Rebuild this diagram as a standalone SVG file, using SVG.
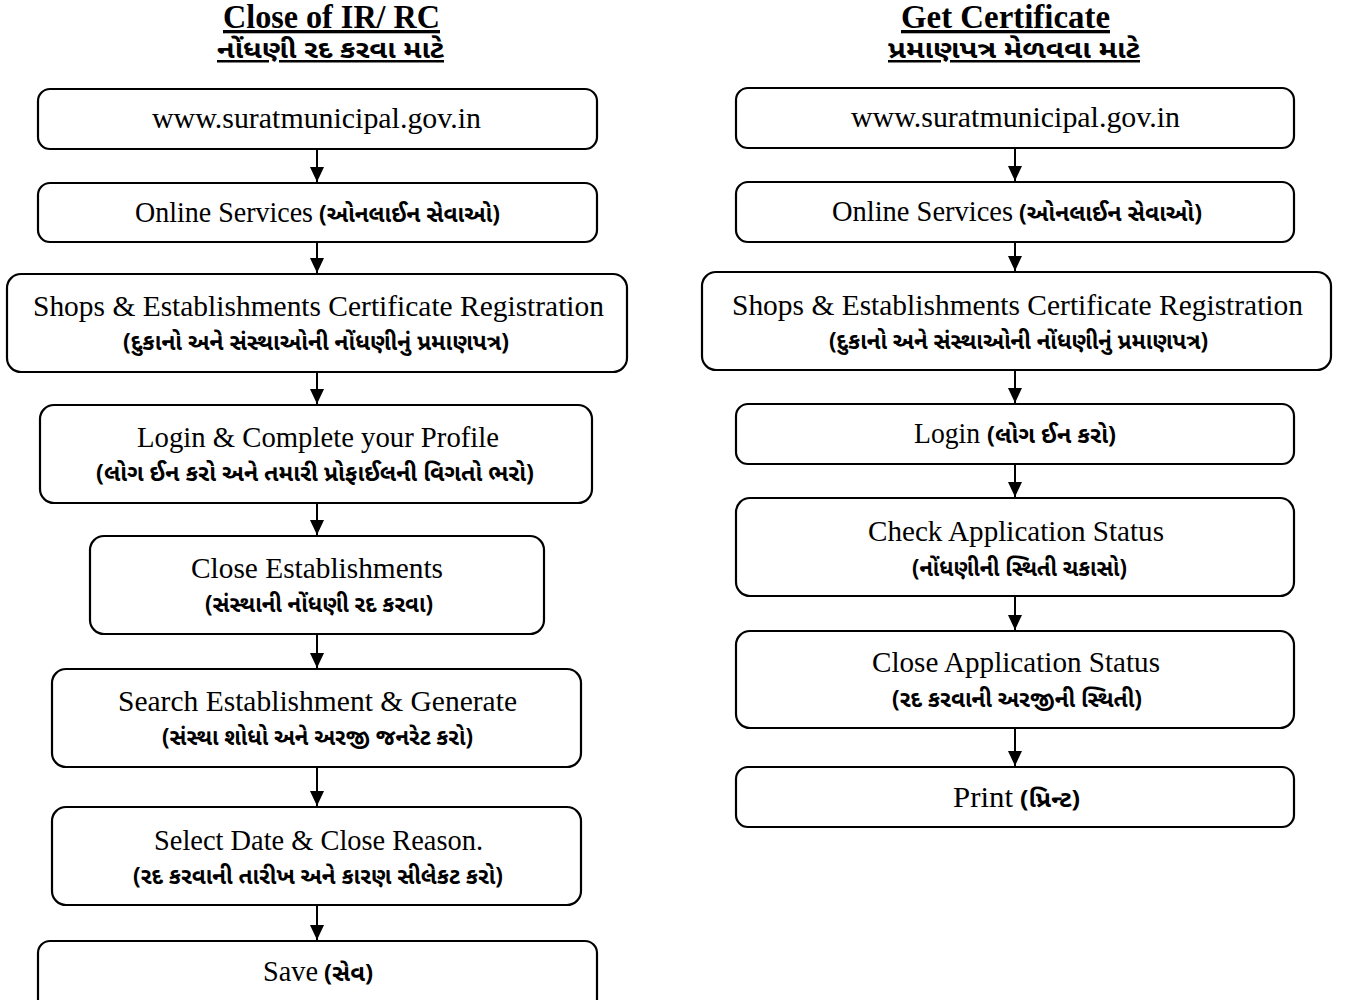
<svg xmlns="http://www.w3.org/2000/svg" width="1347" height="1000" viewBox="0 0 1347 1000">
<style>
.box{fill:#fff;stroke:#000;stroke-width:2.2}
.t{font-family:"Liberation Serif","DejaVu Serif",serif;font-size:29px;fill:#000}
.g{font-family:"Noto Sans Gujarati","Noto Sans","Liberation Serif",serif;font-size:23px;font-weight:bold;fill:#000}
.h{font-family:"Liberation Serif","DejaVu Serif",serif;font-size:33px;font-weight:bold;fill:#000;text-decoration:underline}
.hg{font-family:"Noto Sans Gujarati","Noto Sans","Liberation Serif",serif;font-size:25px;font-weight:bold;fill:#000;text-decoration:underline}
.c{stroke:#000;stroke-width:2;marker-end:url(#ah)}
</style>
<defs>
<marker id="ah" markerWidth="14" markerHeight="15" refX="7" refY="15" markerUnits="userSpaceOnUse" viewBox="0 0 14 15">
<path d="M0,0 L14,0 L7,15 Z" fill="#000"/>
</marker>
</defs>
<g id="title-left">
<text class="h" x="223" y="28" textLength="217" lengthAdjust="spacingAndGlyphs">Close of IR/ RC</text>
<text class="hg" x="217" y="58" textLength="227" lengthAdjust="spacingAndGlyphs">નોંધણી રદ કરવા માટે</text>
</g>
<g id="title-right">
<text class="h" x="901" y="28" textLength="209" lengthAdjust="spacingAndGlyphs">Get Certificate</text>
<text class="hg" x="888" y="58" textLength="252" lengthAdjust="spacingAndGlyphs">પ્રમાણપત્ર મેળવવા માટે</text>
</g>
<g id="connectors">
<line class="c" x1="317" y1="149" x2="317" y2="182"/>
<line class="c" x1="317" y1="242" x2="317" y2="273"/>
<line class="c" x1="317" y1="372" x2="317" y2="404"/>
<line class="c" x1="317" y1="503" x2="317" y2="535"/>
<line class="c" x1="317" y1="634" x2="317" y2="668"/>
<line class="c" x1="317" y1="767" x2="317" y2="806"/>
<line class="c" x1="317" y1="905" x2="317" y2="940"/>
<line class="c" x1="1015" y1="148" x2="1015" y2="181"/>
<line class="c" x1="1015" y1="242" x2="1015" y2="271"/>
<line class="c" x1="1015" y1="370" x2="1015" y2="403"/>
<line class="c" x1="1015" y1="464" x2="1015" y2="497"/>
<line class="c" x1="1015" y1="596" x2="1015" y2="630"/>
<line class="c" x1="1015" y1="728" x2="1015" y2="766"/>
</g>
<g id="l1"><rect class="box" x="38" y="89" width="559" height="60" rx="12"/>
<text class="t" x="152" y="128" textLength="329" lengthAdjust="spacingAndGlyphs">www.suratmunicipal.gov.in</text></g>
<g id="l2"><rect class="box" x="38" y="183" width="559" height="59" rx="12"/>
<text class="t" x="135" y="222" textLength="178" lengthAdjust="spacingAndGlyphs">Online Services</text>
<text class="g" x="319" y="222" textLength="181" lengthAdjust="spacingAndGlyphs">(ઓનલાઈન સેવાઓ)</text></g>
<g id="l3"><rect class="box" x="7" y="274" width="620" height="98" rx="14"/>
<text class="t" x="33" y="316" textLength="571" lengthAdjust="spacingAndGlyphs">Shops &amp; Establishments Certificate Registration</text>
<text class="g" x="123" y="350" textLength="386" lengthAdjust="spacingAndGlyphs">(દુકાનો અને સંસ્થાઓની નોંધણીનું પ્રમાણપત્ર)</text></g>
<g id="l4"><rect class="box" x="40" y="405" width="552" height="98" rx="14"/>
<text class="t" x="137" y="447" textLength="362" lengthAdjust="spacingAndGlyphs">Login &amp; Complete your Profile</text>
<text class="g" x="96" y="481" textLength="438" lengthAdjust="spacingAndGlyphs">(લોગ ઈન કરો અને તમારી પ્રોફાઈલની વિગતો ભરો)</text></g>
<g id="l5"><rect class="box" x="90" y="536" width="454" height="98" rx="14"/>
<text class="t" x="191" y="578" textLength="252" lengthAdjust="spacingAndGlyphs">Close Establishments</text>
<text class="g" x="205" y="612" textLength="228" lengthAdjust="spacingAndGlyphs">(સંસ્થાની નોંધણી રદ કરવા)</text></g>
<g id="l6"><rect class="box" x="52" y="669" width="529" height="98" rx="14"/>
<text class="t" x="118" y="711" textLength="399" lengthAdjust="spacingAndGlyphs">Search Establishment &amp; Generate</text>
<text class="g" x="162" y="745" textLength="311" lengthAdjust="spacingAndGlyphs">(સંસ્થા શોધો અને અરજી જનરેટ કરો)</text></g>
<g id="l7"><rect class="box" x="52" y="807" width="529" height="98" rx="14"/>
<text class="t" x="154" y="850" textLength="329" lengthAdjust="spacingAndGlyphs">Select Date &amp; Close Reason.</text>
<text class="g" x="133" y="884" textLength="370" lengthAdjust="spacingAndGlyphs">(રદ કરવાની તારીખ અને કારણ સીલેકટ કરો)</text></g>
<g id="l8"><rect class="box" x="38" y="941" width="559" height="70" rx="12"/>
<text class="t" x="263" y="981" textLength="55" lengthAdjust="spacingAndGlyphs">Save</text>
<text class="g" x="324" y="981" textLength="49" lengthAdjust="spacingAndGlyphs">(સેવ)</text></g>
<g id="r1"><rect class="box" x="736" y="88" width="558" height="60" rx="12"/>
<text class="t" x="851" y="127" textLength="329" lengthAdjust="spacingAndGlyphs">www.suratmunicipal.gov.in</text></g>
<g id="r2"><rect class="box" x="736" y="182" width="558" height="60" rx="12"/>
<text class="t" x="832" y="221" textLength="181" lengthAdjust="spacingAndGlyphs">Online Services</text>
<text class="g" x="1019" y="221" textLength="183" lengthAdjust="spacingAndGlyphs">(ઓનલાઈન સેવાઓ)</text></g>
<g id="r3"><rect class="box" x="702" y="272" width="629" height="98" rx="14"/>
<text class="t" x="732" y="315" textLength="571" lengthAdjust="spacingAndGlyphs">Shops &amp; Establishments Certificate Registration</text>
<text class="g" x="829" y="349" textLength="379" lengthAdjust="spacingAndGlyphs">(દુકાનો અને સંસ્થાઓની નોંધણીનું પ્રમાણપત્ર)</text></g>
<g id="r4"><rect class="box" x="736" y="404" width="558" height="60" rx="12"/>
<text class="t" x="914" y="443" textLength="66" lengthAdjust="spacingAndGlyphs">Login</text>
<text class="g" x="987" y="443" textLength="129" lengthAdjust="spacingAndGlyphs">(લોગ ઈન કરો)</text></g>
<g id="r5"><rect class="box" x="736" y="498" width="558" height="98" rx="14"/>
<text class="t" x="868" y="541" textLength="296" lengthAdjust="spacingAndGlyphs">Check Application Status</text>
<text class="g" x="912" y="576" textLength="215" lengthAdjust="spacingAndGlyphs">(નોંધણીની સ્થિતી ચકાસો)</text></g>
<g id="r6"><rect class="box" x="736" y="631" width="558" height="97" rx="14"/>
<text class="t" x="872" y="672" textLength="288" lengthAdjust="spacingAndGlyphs">Close Application Status</text>
<text class="g" x="892" y="707" textLength="250" lengthAdjust="spacingAndGlyphs">(રદ કરવાની અરજીની સ્થિતી)</text></g>
<g id="r7"><rect class="box" x="736" y="767" width="558" height="60" rx="12"/>
<text class="t" x="953" y="807" textLength="60" lengthAdjust="spacingAndGlyphs">Print</text>
<text class="g" x="1020" y="807" textLength="60" lengthAdjust="spacingAndGlyphs">(પ્રિન્ટ)</text></g>
</svg>
